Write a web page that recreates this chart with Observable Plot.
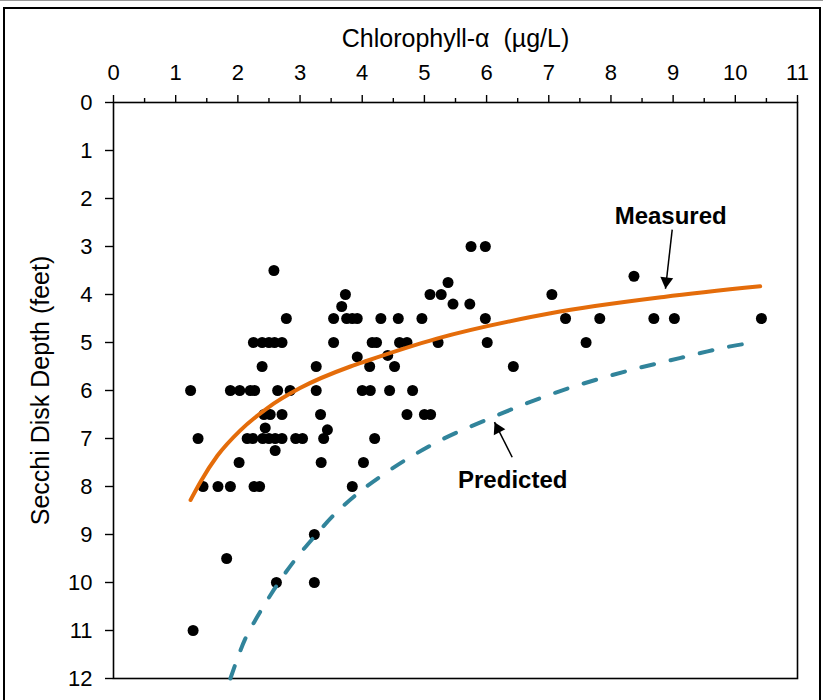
<!DOCTYPE html>
<html>
<head>
<meta charset="utf-8">
<script src="https://cdn.jsdelivr.net/npm/d3@7"></script>
<script src="https://cdn.jsdelivr.net/npm/@observablehq/plot@0.6"></script>
<style>
  html, body { margin: 0; padding: 0; background: #fff; }
  #wrap { position: relative; width: 823px; height: 700px; overflow: hidden; }
  #border { position: absolute; left: 3px; top: 7px; width: 814px; height: 720px; border: 2px solid #000; pointer-events: none; }
  #topline { position: absolute; left: 0; top: 0; width: 823px; height: 1px; background: #999; }
</style>
</head>
<body>
<div id="wrap"><div id="topline"></div><div id="border"></div></div>
<script>
// Scatter observations: Chlorophyll-α (µg/L) vs Secchi depth (feet)
const chlorophyll = [
  5.75, 5.98,
  2.58, 8.37, 5.38,
  3.73, 5.09, 5.27, 7.05,
  3.67,
  5.46, 5.73,
  2.78, 3.54, 3.75, 3.84, 3.92, 4.30, 4.58, 4.96, 5.98, 7.27, 7.82, 8.69, 9.02, 10.42,
  3.92, 4.41,
  2.25, 2.39, 2.50, 2.59, 2.71, 3.54, 4.16, 4.23, 4.60, 4.72, 5.22, 6.01, 7.60,
  2.39, 3.26, 4.12, 4.52, 6.43,
  1.24, 1.88, 2.03, 2.20, 2.27, 2.64, 2.84, 3.26, 4.00, 4.13, 4.44, 4.81,
  2.42, 2.52, 2.71, 3.33, 4.72, 5.00, 5.10,
  2.44, 3.44,
  1.36, 2.15, 2.24, 2.40, 2.50, 2.60, 2.71, 2.93, 3.04, 3.38, 4.20,
  2.60,
  2.02, 3.34, 4.02,
  1.44, 1.68, 1.88, 2.26, 2.35, 3.84,
  3.23, 1.82, 2.62, 3.23, 1.28
];
const secchi = [
  3.0, 3.0,
  3.5, 3.62, 3.75,
  4.0, 4.0, 4.0, 4.0,
  4.25,
  4.2, 4.2,
  4.5, 4.5, 4.5, 4.5, 4.5, 4.5, 4.5, 4.5, 4.5, 4.5, 4.5, 4.5, 4.5, 4.5,
  5.3, 5.27,
  5.0, 5.0, 5.0, 5.0, 5.0, 5.0, 5.0, 5.0, 5.0, 5.0, 5.0, 5.0, 5.0,
  5.5, 5.5, 5.5, 5.5, 5.5,
  6.0, 6.0, 6.0, 6.0, 6.0, 6.0, 6.0, 6.0, 6.0, 6.0, 6.0, 6.0,
  6.5, 6.5, 6.5, 6.5, 6.5, 6.5, 6.5,
  6.78, 6.82,
  7.0, 7.0, 7.0, 7.0, 7.0, 7.0, 7.0, 7.0, 7.0, 7.0, 7.0,
  7.25,
  7.5, 7.5, 7.5,
  8.0, 8.0, 8.0, 8.0, 8.0, 8.0,
  9.0, 9.5, 10.0, 10.0, 11.0
];

// Measured trend
const measuredX = [1.24, 1.40, 1.67, 2.04, 2.47, 3.00, 3.81, 4.08, 5.20, 6.71, 7.03, 8.85, 10.40];
const measuredY = [8.28, 7.90, 7.36, 6.83, 6.37, 5.95, 5.50, 5.38, 4.92, 4.47, 4.39, 4.05, 3.83];

// Predicted curve
const predictedX = [1.88, 2.12, 2.31, 2.58, 2.90, 3.22, 3.60, 3.97, 4.35, 5.15, 6.09, 7.03, 7.99, 8.45, 8.93, 9.44, 9.92, 10.37];
const predictedY = [12.0, 11.17, 10.72, 10.15, 9.56, 9.06, 8.52, 8.10, 7.74, 7.11, 6.56, 6.08, 5.69, 5.53, 5.38, 5.22, 5.08, 4.99];

// Tick values
const xTicks = [0, 1, 2, 3, 4, 5, 6, 7, 8, 9, 10, 11];
const xMinorTicks = [0.5, 1.5, 2.5, 3.5, 4.5, 5.5, 6.5, 7.5, 8.5, 9.5, 10.5];
const yTicks = [0, 1, 2, 3, 4, 5, 6, 7, 8, 9, 10, 11, 12];

// Annotations
const labelText = ["Measured", "Predicted"];
const labelX = [8.96, 6.42];
const labelY = [2.38, 7.87];
const arrowFromX = [8.985, 6.412];
const arrowFromY = [2.65, 7.39];
const arrowToX = [8.877, 6.127];
const arrowToY = [3.88, 6.66];

const xTitle = "Chlorophyll-α  (µg/L)";
const yTitle = "Secchi Disk Depth (feet)";

const points = chlorophyll.map((c, i) => ({c, s: secchi[i]}));
const measured = measuredX.map((x, i) => ({x, y: measuredY[i]}));
const predicted = predictedX.map((x, i) => ({x, y: predictedY[i]}));
const labels = labelText.map((t, i) => ({t, x: labelX[i], y: labelY[i]}));
const arrows = labelText.map((t, i) => ({x1: arrowFromX[i], y1: arrowFromY[i], x2: arrowToX[i], y2: arrowToY[i]}));

const font = "'Liberation Sans', Arial, sans-serif";

const chart = Plot.plot({
  width: 823,
  height: 700,
  marginLeft: 113,
  marginRight: 26,
  marginTop: 102,
  marginBottom: 22,
  style: {fontFamily: font, color: "#000", background: "transparent", overflow: "visible"},
  x: {domain: [0, 11]},
  y: {domain: [0, 12], reverse: true},
  marks: [
    Plot.frame({stroke: "#000", strokeWidth: 1.6}),
    Plot.axisX({anchor: "top", ticks: xTicks, tickSize: 8, tickPadding: 15, fontSize: 22, label: null, strokeWidth: 1.4}),
    Plot.axisX({anchor: "top", ticks: xMinorTicks, tickSize: 5, tickFormat: () => "", label: null, strokeWidth: 1.4}),
    Plot.axisY({anchor: "left", ticks: yTicks, tickSize: 8, tickPadding: 13, fontSize: 22, label: null, strokeWidth: 1.4}),
    Plot.text([xTitle], {frameAnchor: "top", text: d => d, textAnchor: "middle", lineAnchor: "middle", dy: -64, fontSize: 25, fill: "#000"}),
    Plot.text([yTitle], {frameAnchor: "left", text: d => d, textAnchor: "middle", lineAnchor: "middle", rotate: -90, dx: -73, fontSize: 25, fill: "#000"}),
    Plot.dot(points, {x: "c", y: "s", r: 5.5, fill: "#000", stroke: "none"}),
    Plot.line(predicted, {x: "x", y: "y", stroke: "#31849B", strokeWidth: 4, strokeDasharray: "13,17", strokeLinecap: "round", curve: "monotone-x"}),
    Plot.line(measured, {x: "x", y: "y", stroke: "#E46C0A", strokeWidth: 4, strokeLinecap: "round", curve: "monotone-x"}),
    Plot.link(arrows, {x1: "x1", y1: "y1", x2: "x2", y2: "y2", stroke: "#000", strokeWidth: 1.5}),
    Plot.dot([arrows[0]], {x: "x2", y: "y2", symbol: "triangle", r: 4.8, fill: "#000", stroke: "none", rotate: 186.5, dx: 0.85, dy: -7.45}),
    Plot.dot([arrows[1]], {x: "x2", y: "y2", symbol: "triangle", r: 4.8, fill: "#000", stroke: "none", rotate: -26.8, dx: 3.39, dy: 6.7}),
    Plot.text(labels, {x: "x", y: "y", text: "t", fontSize: 24, fontWeight: "bold", fill: "#000"})
  ]
});
document.getElementById("wrap").insertBefore(chart, document.getElementById("topline"));
</script>
</body>
</html>
